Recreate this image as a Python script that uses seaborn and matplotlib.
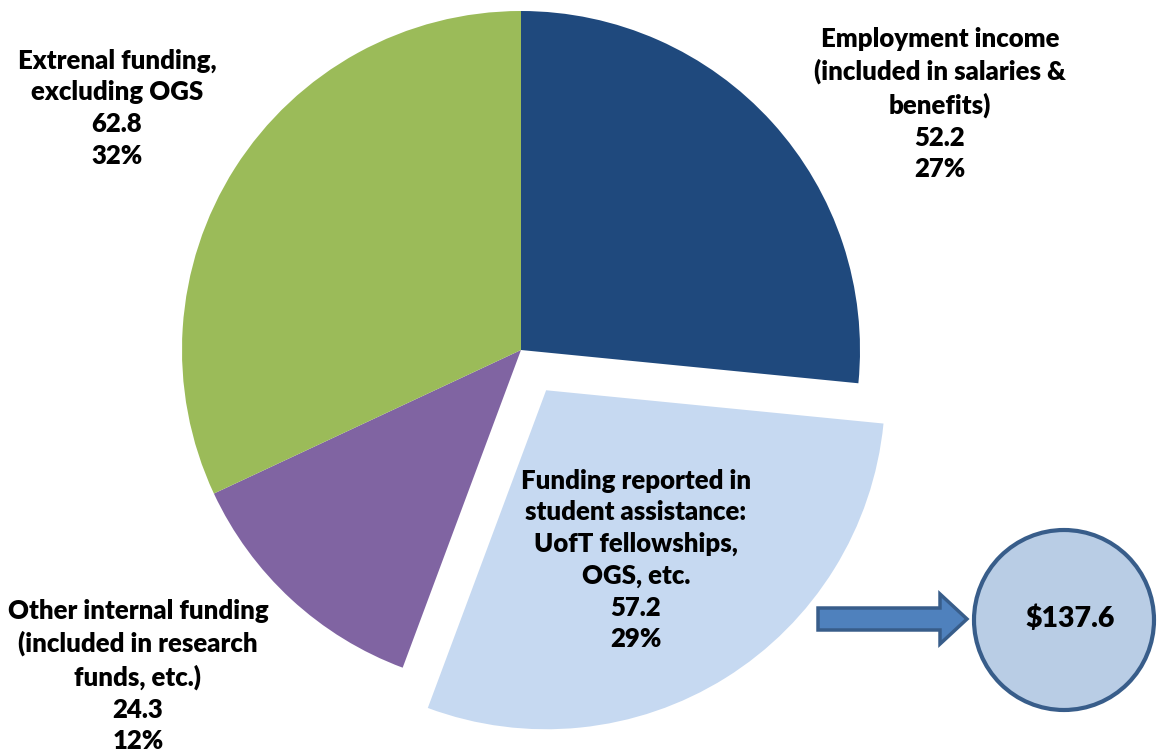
import numpy as np
import matplotlib.pyplot as plt
import seaborn as sns
from matplotlib.patches import Circle, FancyArrow

# данные
names = ["Employment income\n(included in salaries &\nbenefits)",
         "Funding reported in\nstudent assistance:\nUofT fellowships,\nOGS, etc.",
         "Other internal funding\n(included in research\nfunds, etc.)",
         "Extrenal funding,\nexcluding OGS"]
values = [52.2, 57.2, 24.3, 62.8]
colors = ["#1F497D", "#C6D9F1", "#8064A2", "#9BBB59"]
explode = [0, 0.14, 0, 0]
total_label = "$137.6"

sns.set_theme(style="white")
plt.rcParams['font.family'] = ['Lato', 'DejaVu Sans']

W, H = 1157, 754
fig = plt.figure(figsize=(W / 100, H / 100), dpi=100)
ax = fig.add_axes([0, 0, 1, 1])

# пирог (explode в pie задается в единицах данных, поэтому умножаем на радиус)
cx, cy, r = 521, H - 350, 339
ax.pie(values, colors=colors, explode=[e * r for e in explode], startangle=90,
       counterclock=False, center=(cx, cy), radius=r, frame=True,
       wedgeprops=dict(linewidth=0))
ax.set_xlim(0, W)
ax.set_ylim(0, H)
ax.set_aspect("equal")
ax.axis("off")

# подписи
total = sum(values)
label_pos = [(940, 104), (636, 560), (138, 676), (117, 108)]
for name, v, (x, y) in zip(names, values, label_pos):
    txt = f"{name}\n{v}\n{v / total * 100:.0f}%"
    ax.text(x, H - y, txt, ha="center", va="center", fontsize=18.5,
            fontweight="heavy", color="black", linespacing=1.38)

# стрелка и круг
ax.add_patch(FancyArrow(818, H - 619, 122, 0, width=22, head_width=50,
                        head_length=27, length_includes_head=False,
                        facecolor="#4F81BD", edgecolor="#385D8A", linewidth=2.5))
ax.add_patch(Circle((1064, H - 620), 90, facecolor="#B9CDE5",
                    edgecolor="#385D8A", linewidth=3))
ax.text(1070, H - 619, total_label, ha="center", va="center", fontsize=20.5,
        fontweight="heavy", color="black")

fig.savefig("out.png", dpi=100)
